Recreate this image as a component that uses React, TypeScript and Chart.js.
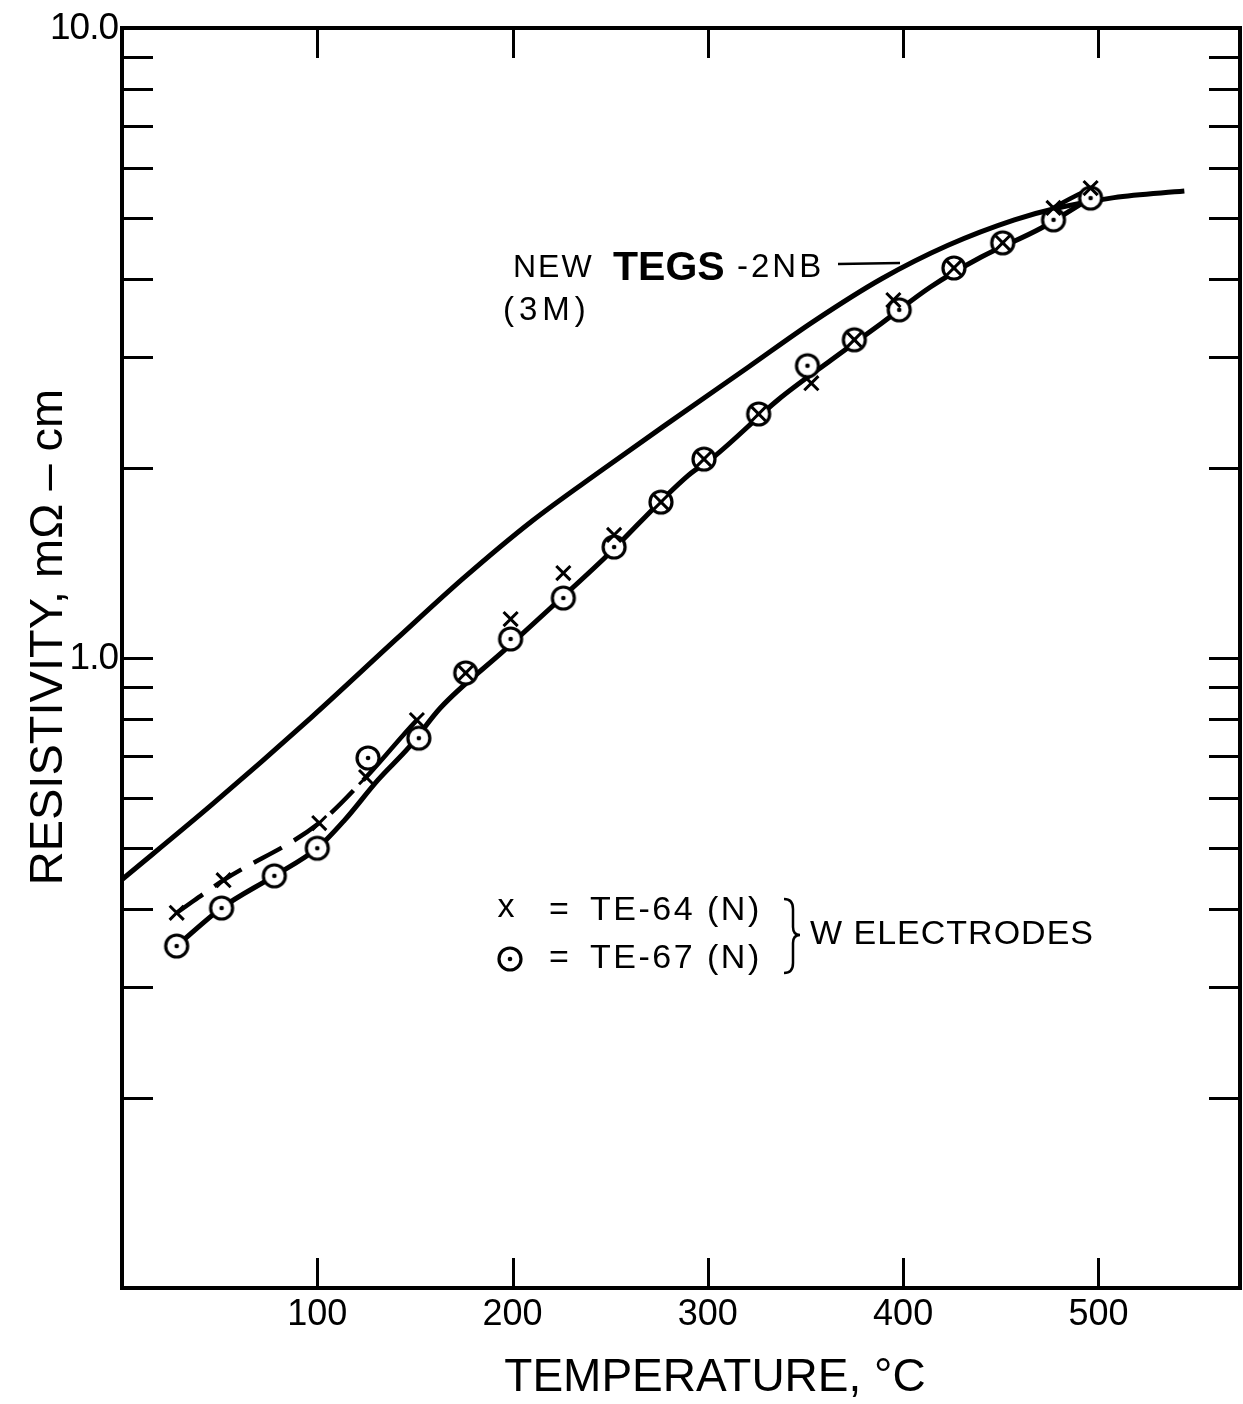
import React, { useEffect, useRef } from "react";
import { Chart, registerables } from "chart.js";

Chart.register(...registerables);

// ---- data ----
// TE-67 (N): circles with centre dot
const te67Temps = [28, 51, 78, 100, 126, 152, 176, 199, 226, 252, 276, 298, 326, 351, 375, 398, 426, 451, 477, 496];
const te67Values = [0.349, 0.401, 0.451, 0.499, 0.694, 0.746, 0.947, 1.072, 1.245, 1.5, 1.768, 2.069, 2.44, 2.91, 3.2, 3.57, 4.16, 4.56, 4.96, 5.37];
// hand-drawn solid curve through the TE-67 points
const te67CurveTemps = [28, 51, 78, 100, 114, 131, 147, 163, 196, 220, 247, 290, 303, 336, 363, 389, 414, 440, 471, 496];
const te67CurveValues = [0.349, 0.401, 0.451, 0.499, 0.553, 0.64, 0.722, 0.833, 1.03, 1.205, 1.44, 1.95, 2.085, 2.57, 2.97, 3.4, 3.88, 4.33, 4.82, 5.37];

// TE-64 (N): x marks
const te64Temps = [28, 52, 101, 125, 151, 176, 199, 226, 252, 276, 298, 326, 353, 375, 395, 426, 451, 477, 496];
const te64Values = [0.394, 0.444, 0.547, 0.647, 0.797, 0.947, 1.153, 1.364, 1.568, 1.768, 2.069, 2.44, 2.73, 3.2, 3.7, 4.16, 4.56, 5.18, 5.57];
// TE-64 curve: dashed below the first temperature, solid to the second,
// merged with the TE-67 curve until the third, solid after
const te64DashedUpTo = 125;
const te64SolidUpTo = 151;
const te64HiddenUntil = 477;

// NEW TEGS-2NB (3M) curve
const tegsTemps = [0, 46, 97, 141, 175, 210, 244, 278, 321, 354, 389, 423, 457, 479, 508, 544];
const tegsValues = [0.445, 0.585, 0.805, 1.075, 1.34, 1.65, 1.97, 2.34, 2.9, 3.42, 4.0, 4.52, 4.96, 5.18, 5.38, 5.51];

// axes
const xMin = 0;
const xMax = 572.5;
const yMin = 0.1;
const yMax = 10;
const xTickValues = [100, 200, 300, 400, 500];
const xTickLabels = ["100", "200", "300", "400", "500"];
const yTickValues = [0.2, 0.3, 0.4, 0.5, 0.6, 0.7, 0.8, 0.9, 1, 2, 3, 4, 5, 6, 7, 8, 9];
const yLabelValues = [1, 10];
const yLabelTexts = ["1.0", "10.0"];

const xTitle = "TEMPERATURE, °C";
const yTitle = "RESISTIVITY, mΩ – cm";
const legendRows = ["TE-64 (N)", "TE-67 (N)"];
const legendGroup = "W ELECTRODES";

const FONT = "'Liberation Sans', Arial, sans-serif";

function makeCircleDot(): HTMLCanvasElement {
  const c = document.createElement("canvas");
  c.width = 30;
  c.height = 30;
  const g = c.getContext("2d")!;
  g.beginPath();
  g.arc(15, 15, 11, 0, Math.PI * 2);
  g.fillStyle = "#fff";
  g.fill();
  g.lineWidth = 3.2;
  g.strokeStyle = "#000";
  g.stroke();
  g.beginPath();
  g.arc(15, 15, 2.3, 0, Math.PI * 2);
  g.fillStyle = "#000";
  g.fill();
  return c;
}

function spaced(ctx: CanvasRenderingContext2D, px: number) {
  (ctx as any).letterSpacing = `${px}px`;
}

export default function App() {
  const ref = useRef<HTMLCanvasElement | null>(null);

  useEffect(() => {
    const canvas = ref.current;
    if (!canvas) return;
    const circleImg = makeCircleDot();

    const te67Pts = te67Temps.map((t, i) => ({ x: t, y: te67Values[i] }));
    const te67CurvePts = te67CurveTemps.map((t, i) => ({ x: t, y: te67CurveValues[i] }));
    const te64Pts = te64Temps.map((t, i) => ({ x: t, y: te64Values[i] }));
    const tegsPts = tegsTemps.map((t, i) => ({ x: t, y: tegsValues[i] }));

    const framePlugin = {
      id: "frame",
      afterDatasetsDraw(chart: any) {
        const { ctx, chartArea: a, scales } = chart;
        const xs = scales.x;
        const ys = scales.y;
        ctx.save();
        ctx.strokeStyle = "#000";
        ctx.lineCap = "butt";
        ctx.lineWidth = 3;
        ctx.beginPath();
        for (const v of yTickValues) {
          const py = Math.round(ys.getPixelForValue(v)) + 0.5;
          ctx.moveTo(a.left, py);
          ctx.lineTo(a.left + 31, py);
          ctx.moveTo(a.right, py);
          ctx.lineTo(a.right - 31, py);
        }
        for (const v of xTickValues) {
          const px = Math.round(xs.getPixelForValue(v)) + 0.5;
          ctx.moveTo(px, a.bottom);
          ctx.lineTo(px, a.bottom - 30);
          ctx.moveTo(px, a.top);
          ctx.lineTo(px, a.top + 30);
        }
        ctx.stroke();
        ctx.lineWidth = 4;
        ctx.strokeRect(a.left, a.top, a.right - a.left, a.bottom - a.top);
        ctx.restore();
      },
      afterDraw(chart: any) {
        const { ctx, chartArea: a, scales } = chart;
        const xs = scales.x;
        const ys = scales.y;
        ctx.save();
        ctx.fillStyle = "#000";
        ctx.strokeStyle = "#000";

        // x tick labels
        ctx.font = `36px ${FONT}`;
        ctx.textAlign = "center";
        ctx.textBaseline = "middle";
        xTickValues.forEach((v, i) => {
          ctx.fillText(xTickLabels[i], xs.getPixelForValue(v), a.bottom + 27);
        });
        // y labels
        ctx.font = `37px ${FONT}`;
        ctx.textAlign = "right";
        spaced(ctx, -1);
        yLabelValues.forEach((v, i) => {
          ctx.fillText(yLabelTexts[i], a.left - 4, ys.getPixelForValue(v) + 1);
        });
        spaced(ctx, 0);

        // axis titles
        ctx.font = `46px ${FONT}`;
        ctx.textAlign = "center";
        ctx.textBaseline = "middle";
        ctx.fillText(xTitle, 715, 1378);
        ctx.save();
        ctx.translate(49, 637);
        ctx.rotate(-Math.PI / 2);
        ctx.font = `47px ${FONT}`;
        ctx.fillText(yTitle, 0, 0);
        ctx.restore();

        // curve annotation
        ctx.textAlign = "left";
        ctx.textBaseline = "alphabetic";
        ctx.font = `32px ${FONT}`;
        spaced(ctx, 2);
        ctx.fillText("NEW", 513, 277);
        ctx.font = `bold 41px ${FONT}`;
        spaced(ctx, 0);
        ctx.fillText("TEGS", 613, 280);
        ctx.font = `33px ${FONT}`;
        spaced(ctx, 3);
        ctx.fillText("-2NB", 737, 277);
        spaced(ctx, 5);
        ctx.fillText("(3M)", 503, 320);
        spaced(ctx, 0);
        ctx.lineWidth = 2.5;
        ctx.beginPath();
        ctx.moveTo(838, 264);
        ctx.lineTo(900, 263);
        ctx.stroke();

        // legend
        const r1 = 911;
        const r2 = 959;
        ctx.font = `34px ${FONT}`;
        ctx.textBaseline = "middle";
        ctx.textAlign = "center";
        ctx.fillText("x", 506, r1 - 3);
        ctx.drawImage(circleImg, 510 - 15, r2 - 15);
        ctx.fillText("=", 559, r1);
        ctx.fillText("=", 559, r2);
        ctx.textAlign = "left";
        spaced(ctx, 2.5);
        ctx.fillText(legendRows[0], 590, r1);
        ctx.fillText(legendRows[1], 590, r2);
        spaced(ctx, 1);
        // brace
        ctx.lineWidth = 2.5;
        ctx.beginPath();
        const bx = 784;
        const mid = (r1 + r2) / 2;
        ctx.moveTo(bx, r1 - 12);
        ctx.quadraticCurveTo(bx + 9, r1 - 12, bx + 9, r1 - 2);
        ctx.lineTo(bx + 9, mid - 8);
        ctx.quadraticCurveTo(bx + 9, mid, bx + 16, mid);
        ctx.quadraticCurveTo(bx + 9, mid, bx + 9, mid + 8);
        ctx.lineTo(bx + 9, r2 + 4);
        ctx.quadraticCurveTo(bx + 9, r2 + 14, bx, r2 + 14);
        ctx.stroke();
        ctx.fillText(legendGroup, 810, mid);
        spaced(ctx, 0);

        ctx.restore();
      },
    };

    const chart = new Chart(canvas, {
      type: "line",
      data: {
        datasets: [
          {
            label: "TE-64 (N)",
            data: te64Pts,
            showLine: false,
            pointStyle: "crossRot",
            pointRadius: 10,
            pointBorderWidth: 3,
            borderColor: "#000",
            backgroundColor: "#000",
            order: 0,
          },
          {
            label: "TE-67 (N)",
            data: te67Pts,
            showLine: false,
            pointStyle: circleImg as any,
            pointRadius: 12,
            order: 1,
          },
          {
            label: "TE-67 curve",
            data: te67CurvePts,
            borderColor: "#000",
            borderWidth: 5,
            pointRadius: 0,
            cubicInterpolationMode: "monotone",
            order: 2,
          },
          {
            label: "TE-64 curve",
            data: te64Pts,
            borderColor: "#000",
            borderWidth: 4.5,
            pointRadius: 0,
            cubicInterpolationMode: "monotone",
            segment: {
              borderDash: (c: any) => (c.p0.parsed.x < te64DashedUpTo ? [32, 14] : undefined),
              borderColor: (c: any) =>
                c.p0.parsed.x >= te64SolidUpTo && c.p1.parsed.x <= te64HiddenUntil ? "rgba(0,0,0,0)" : "#000",
            },
            order: 3,
          },
          {
            label: "NEW TEGS-2NB (3M)",
            data: tegsPts,
            borderColor: "#000",
            borderWidth: 5,
            pointRadius: 0,
            cubicInterpolationMode: "monotone",
            order: 4,
          },
        ],
      },
      options: {
        animation: false,
        responsive: false,
        devicePixelRatio: 1,
        layout: { autoPadding: false, padding: { left: 122, top: 28, right: 3, bottom: 116 } },
        plugins: { legend: { display: false }, tooltip: { enabled: false } },
        scales: {
          x: { type: "linear", min: xMin, max: xMax, display: false },
          y: { type: "logarithmic", min: yMin, max: yMax, display: false },
        },
      },
      plugins: [framePlugin],
    });
    return () => chart.destroy();
  }, []);

  return (
    <div style={{ position: "absolute", left: 0, top: 0, width: 1243, height: 1404, background: "#fff" }}>
      <canvas ref={ref} width={1243} height={1404} style={{ display: "block", width: 1243, height: 1404 }} />
    </div>
  );
}
